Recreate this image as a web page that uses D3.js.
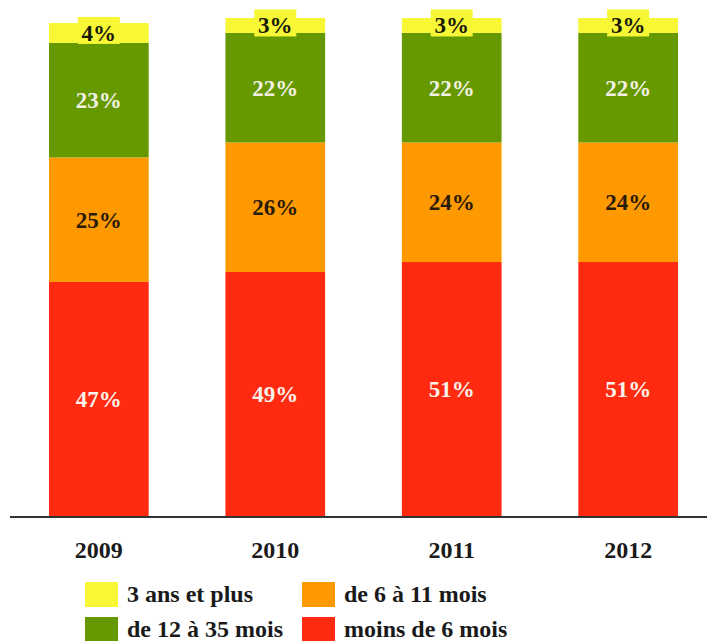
<!DOCTYPE html>
<html>
<head>
<meta charset="utf-8">
<script src="https://cdn.jsdelivr.net/npm/d3@7/dist/d3.min.js"></script>
<style>
  body { margin: 0; background: #fff; }
  svg text { font-family: "Liberation Serif", "DejaVu Serif", serif; font-weight: bold; }
</style>
</head>
<body>
<svg id="chart" width="707" height="641"></svg>
<script>
// data (percent)
var years = ["2009", "2010", "2011", "2012"];
var moins6 = [47, 49, 51, 51];
var de6a11 = [25, 26, 24, 24];
var de12a35 = [23, 22, 22, 22];
var plus3ans = [4, 3, 3, 3];

var seriesKeys = ["moins6", "de6a11", "de12a35", "plus3ans"];
var seriesNames = ["moins de 6 mois", "de 6 à 11 mois", "de 12 à 35 mois", "3 ans et plus"];
var colors = ["#ff2a10", "#ff9900", "#669900", "#f7f735"];
var labelColors = ["#fbf3ea", "#2a1a0a", "#f2f0e2", "#1a1a0a"];

var rows = years.map(function(y, i) {
    return { year: y, moins6: moins6[i], de6a11: de6a11[i], de12a35: de12a35[i], plus3ans: plus3ans[i] };
});

var svg = d3.select("#chart");
var baseY = 516;

var x = d3.scaleBand().domain(years).range([49, 678]).paddingInner(0.435).paddingOuter(0);
var y = d3.scaleLinear().domain([0, 100]).range([baseY, 18]);

var stack = d3.stack().keys(seriesKeys)(rows);

var layers = svg.selectAll("g.layer")
    .data(stack)
    .enter().append("g")
    .attr("class", "layer")
    .attr("fill", function(d, i) { return colors[i]; });

layers.selectAll("rect")
    .data(function(d) { return d; })
    .enter().append("rect")
    .attr("x", function(d) { return x(d.data.year); })
    .attr("width", x.bandwidth())
    .attr("y", function(d) { return y(d[1]); })
    .attr("height", function(d) { return y(d[0]) - y(d[1]); });

// segment labels
stack.forEach(function(layer, li) {
    layer.forEach(function(d) {
        var cx = x(d.data.year) + x.bandwidth() / 2;
        var cy = (y(d[0]) + y(d[1])) / 2;
        var txt = d.data[layer.key] + "%";
        if (layer.key === "plus3ans") {
            // small label sits on its own yellow box
            svg.append("rect")
                .attr("x", cx - 21).attr("y", cy - 16)
                .attr("width", 42).attr("height", 27)
                .attr("fill", colors[li]);
        }
        svg.append("text")
            .attr("x", cx).attr("y", cy + 8)
            .attr("text-anchor", "middle")
            .attr("font-size", 23)
            .attr("fill", labelColors[li])
            .text(txt);
    });
});

// baseline
svg.append("line")
    .attr("x1", 10).attr("x2", 707)
    .attr("y1", baseY + 1).attr("y2", baseY + 1)
    .attr("stroke", "#333").attr("stroke-width", 2);

// year axis
var xAxis = svg.append("g")
    .attr("transform", "translate(0," + baseY + ")")
    .call(d3.axisBottom(x).tickSize(0).tickPadding(25));
xAxis.select(".domain").remove();
xAxis.selectAll("text")
    .attr("font-size", 24)
    .attr("fill", "#1a1a1a")
    .style("font-family", "'Liberation Serif', serif")
    .style("font-weight", "bold");

// legend, 2 columns
var legendOrder = [3, 1, 2, 0];
var legend = svg.selectAll("g.legend")
    .data(legendOrder)
    .enter().append("g")
    .attr("class", "legend")
    .attr("transform", function(d, i) {
        return "translate(" + (85 + (i % 2) * 217) + "," + (582 + Math.floor(i / 2) * 35) + ")";
    });
legend.append("rect")
    .attr("width", 33).attr("height", 25)
    .attr("fill", function(d) { return colors[d]; });
legend.append("text")
    .attr("x", 42).attr("y", 20)
    .attr("font-size", 24)
    .attr("fill", "#1a1a1a")
    .text(function(d) { return seriesNames[d]; });
</script>
</body>
</html>
